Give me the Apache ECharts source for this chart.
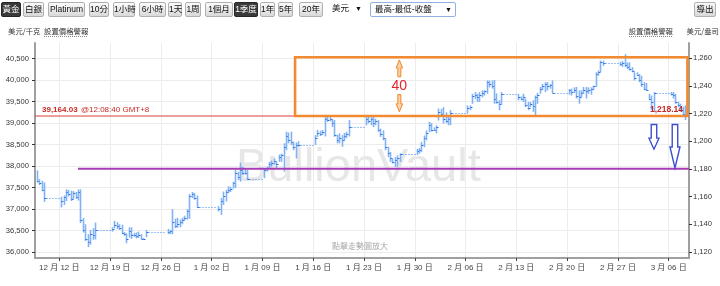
<!DOCTYPE html>
<html>
<head>
<meta charset="utf-8">
<title>BullionVault 黃金 1季度</title>
<script src="https://cdn.jsdelivr.net/npm/echarts@6/dist/echarts.min.js"></script>
<style>
html,body{margin:0;padding:0;background:#fff;}
#wrap{position:relative;width:720px;height:286px;overflow:hidden;font-family:'Liberation Sans','Noto Sans CJK TC',sans-serif;}
#chart{position:absolute;left:0;top:0;width:720px;height:286px;}
.b{position:absolute;top:2px;height:15px;line-height:13px;box-sizing:border-box;border:1px solid #b0b0b0;border-radius:2px;background:linear-gradient(#fbfbfb,#d9d9d9);font-size:8.5px;color:#111;text-align:center;white-space:nowrap;z-index:5;}
.b.sel{background:#3a3a3a;border-color:#262626;color:#fff;}
.s{position:absolute;top:2px;height:15px;line-height:13px;box-sizing:border-box;font-size:8.5px;color:#111;white-space:nowrap;z-index:5;background:#fff;padding-left:4px;}
.s i{position:absolute;right:3px;top:0;font-style:normal;font-size:7px;}
</style>
</head>
<body>
<div id="wrap">
<div id="chart"></div>
<span class="b sel" style="left:1px;width:20px">黃金</span>
<span class="b" style="left:23px;width:21px">白銀</span>
<span class="b" style="left:48px;width:37px">Platinum</span>
<span class="b" style="left:89px;width:20px">10分</span>
<span class="b" style="left:113px;width:22px">1小時</span>
<span class="b" style="left:139px;width:27px">6小時</span>
<span class="b" style="left:168px;width:14px">1天</span>
<span class="b" style="left:185px;width:16px">1周</span>
<span class="b" style="left:205px;width:28px">1個月</span>
<span class="b sel" style="left:234px;width:24px">1季度</span>
<span class="b" style="left:260px;width:15px">1年</span>
<span class="b" style="left:278px;width:15px">5年</span>
<span class="b" style="left:299px;width:24px">20年</span>
<span class="s" style="left:328px;width:37px">美元<i>▼</i></span>
<span class="s" style="left:370px;width:86px;border:1px solid #8fb1e3;border-radius:2px;">最高-最低-收盤<i>▼</i></span>
<span class="b" style="left:694px;width:22px">導出</span>
</div>
<script>
// ---------------- data ----------------
const OZ_PER_KG = 32.1507466;
const leftTicks = [36000, 36500, 37000, 37500, 38000, 38500, 39000, 39500, 40000, 40500];
const rightTicks = [1120, 1140, 1160, 1180, 1200, 1220, 1240, 1260];
const xTickDates = ['2016-12-12', '2016-12-19', '2016-12-26', '2017-01-02', '2017-01-09', '2017-01-16',
  '2017-01-23', '2017-01-30', '2017-02-06', '2017-02-13', '2017-02-20', '2017-02-27', '2017-03-06'];
const xRange = ['2016-12-08 15:37', '2017-03-08 19:12'];
const yRangeKg = [35867, 40860];

// 8-hour bars, grouped in trading sessions (weekends / holidays between sessions)
const sessionStarts = ['2016-12-08 22:00', '2016-12-12 06:00', '2016-12-19 06:00', '2016-12-26 22:00',
  '2017-01-02 22:00', '2017-01-09 06:00', '2017-01-16 06:00', '2017-01-23 06:00', '2017-01-30 06:00',
  '2017-02-06 06:00', '2017-02-13 06:00', '2017-02-20 06:00', '2017-02-27 06:00', '2017-03-06 06:00'];
const sessionCounts = [4, 15, 15, 13, 13, 15, 15, 15, 15, 15, 15, 15, 15, 7];

// USD per kg
const highs = [
  37900, 37700, 37660, 37620,
  37290, 37320, 37460, 37450, 37430, 37420, 37400, 37460, 37460, 36800, 36650, 36420, 36520, 36560, 36690,
  36580, 36730, 36700, 36650, 36640, 36470, 36440, 36580, 36580, 36450, 36460, 36480, 36420, 36330, 36520,
  36540, 36520, 37000, 36780, 36800, 36760, 36800, 36850, 37000, 37350, 37400, 37380, 37320,
  37070, 37260, 37410, 37450, 37530, 37520, 37640, 37910, 37870, 38080, 37990, 37950, 37910,
  37950, 37990, 38100, 38130, 38180, 38100, 38270, 38290, 38530, 38800, 38780, 38800, 38570, 38550, 38580,
  38720, 38840, 38820, 38840, 39180, 39180, 39140, 39100, 39070, 38730, 38760, 38720, 38770, 38800, 39070,
  39180, 39180, 39150, 39140, 39100, 39070, 38870, 38830, 38650, 38450, 38330, 38180, 38210, 38250, 38300,
  38400, 38420, 38560, 38710, 38830, 39030, 39000, 38900, 38950, 39340, 39330, 39370, 39250, 39140, 39300,
  39410, 39410, 39680, 39720, 39680, 39720, 39760, 39760, 39990, 39990, 39990, 40000, 39690, 39530, 39720,
  39680, 39620, 39680, 39570, 39490, 39490, 39530, 39640, 39700, 39840, 39910, 39950, 39950, 39910, 39990,
  39790, 39800, 39830, 39840, 39760, 39760, 39840, 39840, 39830, 39830, 39870, 40180, 40220, 40450, 40450,
  40420, 40440, 40600, 40410, 40410, 40300, 40180, 40180, 40140, 40100, 39950, 39930, 39680, 39640, 39720,
  39720, 39720, 39680, 39490, 39450, 39380, 39410
];
const lows = [
  37620, 37560, 37420, 37170,
  37040, 37100, 37190, 37300, 37190, 37230, 37240, 37200, 36680, 36460, 36260, 36120, 36180, 36290, 36300,
  36480, 36560, 36540, 36520, 36420, 36380, 36210, 36340, 36310, 36360, 36320, 36330, 36300, 36290, 36350,
  36420, 36420, 36420, 36560, 36570, 36580, 36650, 36730, 36760, 36780, 37260, 37220, 37030,
  36950, 36870, 37100, 37180, 37370, 37400, 37480, 37490, 37680, 37640, 37800, 37800, 37680,
  37720, 37870, 37950, 37980, 38030, 37950, 38100, 38100, 37870, 38370, 38530, 38490, 38370, 38180, 38450,
  38490, 38680, 38700, 38720, 38690, 39030, 39040, 38910, 38680, 38530, 38530, 38450, 38580, 38650, 38690,
  38950, 38990, 38950, 38910, 38950, 38800, 38680, 38600, 38370, 38210, 38100, 38060, 37980, 37990, 38100,
  38260, 38290, 38330, 38440, 38600, 38790, 38800, 38820, 38760, 39060, 39150, 38990, 39000, 38950, 38950,
  39220, 39300, 39450, 39560, 39490, 39490, 39600, 39640, 39680, 39830, 39800, 39450, 39450, 39300, 39420,
  39530, 39530, 39490, 39370, 39300, 39370, 39260, 39140, 39450, 39680, 39760, 39720, 39760, 39800, 39700,
  39660, 39640, 39700, 39570, 39450, 39600, 39680, 39570, 39680, 39660, 39760, 39840, 40100, 40180, 40330,
  40330, 40300, 40300, 40260, 40220, 40180, 39990, 40100, 39950, 39840, 39760, 39760, 39530, 39300, 39260,
  39640, 39570, 39450, 39370, 39260, 39140, 39070
];
const closes = [
  37660, 37600, 37450, 37250,
  37200, 37280, 37400, 37350, 37230, 37380, 37280, 37400, 36750, 36520, 36300, 36250, 36420, 36400, 36520,
  36540, 36640, 36600, 36560, 36450, 36420, 36300, 36500, 36400, 36400, 36380, 36400, 36310, 36310, 36460,
  36480, 36500, 36700, 36600, 36650, 36700, 36760, 36800, 36950, 37300, 37350, 37250, 37050,
  37000, 37200, 37300, 37400, 37450, 37480, 37600, 37850, 37750, 37900, 37850, 37830, 37700,
  37900, 37950, 38050, 38080, 38120, 38050, 38220, 38250, 38450, 38700, 38600, 38550, 38450, 38500, 38490,
  38650, 38780, 38750, 38800, 39100, 39080, 39100, 39000, 38720, 38600, 38650, 38600, 38700, 38750, 38910,
  39100, 39050, 39100, 39000, 39050, 38850, 38750, 38650, 38450, 38300, 38200, 38100, 38150, 38200, 38290,
  38350, 38380, 38500, 38650, 38780, 38950, 38850, 38850, 38900, 39250, 39200, 39100, 39050, 39100, 39235,
  39350, 39380, 39620, 39650, 39600, 39650, 39700, 39740, 39950, 39900, 39850, 39550, 39500, 39450, 39680,
  39600, 39560, 39600, 39420, 39350, 39450, 39400, 39600, 39650, 39800, 39850, 39900, 39850, 39880, 39700,
  39760, 39720, 39780, 39620, 39600, 39700, 39780, 39750, 39780, 39800, 39850, 40150, 40180, 40420, 40390,
  40380, 40400, 40350, 40300, 40250, 40200, 40050, 40120, 40000, 39900, 39800, 39780, 39560, 39500, 39696,
  39680, 39650, 39480, 39420, 39300, 39200, 39164.03
];

const currentPriceKg = 39164.03;
const currentPriceOz = 1218.14;
const currentTimeText = '@12:08:40 GMT+8';
// annotations (USD/oz)
const boxStart = '2017-01-13 12:00', boxEnd = '2017-03-08 14:00';
const boxLowOz = 1218.14, boxHighOz = 1260.6, boxLabel = '40';
const boxArrowTime = '2017-01-27 21:00';
const supportOz = 1180, supportStart = '2016-12-14 14:00';
const downArrowTimes = ['2017-03-03 23:20', '2017-03-06 20:50'];
const downArrowTipOz = [1194.2, 1180.6];

// ---------------- helpers ----------------
function parseT(s) {
  const m = s.match(/(\d+)-(\d+)-(\d+)(?:[ T](\d+):(\d+))?/);
  return new Date(+m[1], +m[2] - 1, +m[3], m[4] ? +m[4] : 0, m[5] ? +m[5] : 0).getTime();
}
function fmtNum(v) { return String(v).replace(/\B(?=(\d{3})+(?!\d))/g, ','); }
const H8 = 8 * 3600 * 1000;

const barData = [];
let idx = 0;
sessionStarts.forEach((s, si) => {
  const t0 = parseT(s);
  for (let k = 0; k < sessionCounts[si]; k++) {
    const isLast = k === sessionCounts[si] - 1 && si < sessionStarts.length - 1;
    const next = isLast ? parseT(sessionStarts[si + 1]) : 0;
    barData.push([t0 + k * H8, highs[idx], lows[idx], closes[idx], next]);
    idx++;
  }
});

const FONT = "'Liberation Sans','Noto Sans CJK TC',sans-serif";
const G = { left: 35, top: 43, right: 31, bottom: 28 };
const xTicks = xTickDates.map(parseT);

const chart = echarts.init(document.getElementById('chart'), null, { renderer: 'canvas' });
chart.setOption({
  animation: false,
  backgroundColor: '#fff',
  grid: { left: G.left, top: G.top, right: G.right, bottom: G.bottom, containLabel: false },
  xAxis: {
    type: 'value',
    min: parseT(xRange[0]), max: parseT(xRange[1]),
    axisLine: { show: true, onZero: false, lineStyle: { color: '#a0a0a0', width: 2 } },
    axisTick: { show: true, length: 3, lineStyle: { color: '#444' }, customValues: xTicks },
    axisLabel: {
      customValues: xTicks, fontSize: 8, color: '#444', margin: 6, fontFamily: FONT,
      formatter: v => { const d = new Date(v); return (d.getMonth() + 1) + ' 月 ' + String(d.getDate()).padStart(2, '0') + ' 日'; }
    },
    splitLine: { show: true, lineStyle: { color: '#ececec', width: 1 } }
  },
  yAxis: [{
    type: 'value', position: 'left',
    min: yRangeKg[0], max: yRangeKg[1],
    axisLine: { show: true, onZero: false, lineStyle: { color: '#a0a0a0', width: 2 } },
    axisTick: { show: true, length: 3, lineStyle: { color: '#333' }, customValues: leftTicks },
    axisLabel: { customValues: leftTicks, fontSize: 7.6, color: '#333', margin: 6, fontFamily: FONT, formatter: fmtNum },
    splitLine: { show: true, lineStyle: { color: '#ececec', width: 1 } }
  }, {
    type: 'value', position: 'right',
    min: yRangeKg[0] / OZ_PER_KG, max: yRangeKg[1] / OZ_PER_KG,
    axisLine: { show: true, onZero: false, lineStyle: { color: '#a0a0a0', width: 2 } },
    axisTick: { show: true, length: 3, lineStyle: { color: '#333' }, customValues: rightTicks },
    axisLabel: { customValues: rightTicks, fontSize: 7.6, color: '#333', margin: 4, fontFamily: FONT, formatter: fmtNum },
    splitLine: { show: false }
  }],
  series: [{
    type: 'custom',
    name: '黃金',
    xAxisIndex: 0, yAxisIndex: 0,
    clip: true,
    encode: { x: 0, y: [1, 2, 3] },
    data: barData,
    renderItem: (params, api) => {
      const t = api.value(0), h = api.value(1), l = api.value(2), c = api.value(3), nt = api.value(4);
      const pH = api.coord([t, h]), pL = api.coord([t, l]), pC = api.coord([t, c]);
      const x = Math.round(pH[0]) + 0.5;
      const yc = Math.round(pC[1]) + 0.5;
      const ch = [
        { type: 'line', shape: { x1: x, y1: pH[1], x2: x, y2: pL[1] }, style: { stroke: '#80b2f4', lineWidth: 1.6 } },
        { type: 'line', shape: { x1: x, y1: yc, x2: x + 2, y2: yc }, style: { stroke: '#2b6ddd', lineWidth: 1 } }
      ];
      if (nt > 0) {
        const pN = api.coord([nt, c]);
        ch.push({ type: 'line', shape: { x1: x + 2, y1: yc, x2: pN[0] - 1, y2: yc }, style: { stroke: '#3f86ee', lineWidth: 1, lineDash: [1, 2] } });
      }
      return { type: 'group', children: ch };
    }
  }]
});

// ---------------- annotations ----------------
function px(t, vKg) { return chart.convertToPixel({ xAxisIndex: 0, yAxisIndex: 0 }, [t, vKg]); }
const gRight = 720 - G.right, gLeft = G.left;
function arrowPts(cx, yTail, yTip, shaftW, headW, headH) {
  const dir = yTip > yTail ? 1 : -1;
  const yNeck = yTip - dir * headH;
  return [[cx - shaftW / 2, yTail], [cx + shaftW / 2, yTail], [cx + shaftW / 2, yNeck], [cx + headW / 2, yNeck],
    [cx, yTip], [cx - headW / 2, yNeck], [cx - shaftW / 2, yNeck]];
}
const yPrice = px(parseT(xRange[0]), currentPriceKg)[1];
const ySupport = px(parseT(xRange[0]), supportOz * OZ_PER_KG)[1];
const pBoxA = px(parseT(boxStart), boxHighOz * OZ_PER_KG);
const pBoxB = px(parseT(boxEnd), boxLowOz * OZ_PER_KG);
const xSupport = px(parseT(supportStart), yRangeKg[0])[0];
const xBoxArrow = px(parseT(boxArrowTime), yRangeKg[0])[0];
const boxTop = pBoxA[1], boxBot = pBoxB[1];
const CJK = "'Noto Sans CJK TC', sans-serif";

const els = [
  { type: 'text', z: -5, left: 236, top: 145, style: { text: 'BullionVault', font: "47px 'Liberation Sans', Arial, sans-serif", fill: '#e7e7e7' } },
  { type: 'text', z: 50, style: { text: '點擊走勢圖放大', x: 360, y: 246, align: 'center', verticalAlign: 'middle', font: "8px " + CJK, fill: '#a8a8a8' } },
  { type: 'text', z: 50, style: { text: '美元/千克', x: 8, y: 31.5, verticalAlign: 'middle', font: "7.4px " + CJK, fill: '#333' } },
  { type: 'text', z: 50, style: { text: '設置價格警報', x: 44, y: 31.5, verticalAlign: 'middle', font: "7.4px " + CJK, fill: '#333' } },
  { type: 'line', z: 50, shape: { x1: 44, y1: 36.5, x2: 88, y2: 36.5 }, style: { stroke: '#888', lineWidth: 1, lineDash: [1, 1] } },
  { type: 'text', z: 50, style: { text: '設置價格警報', x: 673, y: 31.5, align: 'right', verticalAlign: 'middle', font: "7.4px " + CJK, fill: '#333' } },
  { type: 'line', z: 50, shape: { x1: 629, y1: 36.5, x2: 673, y2: 36.5 }, style: { stroke: '#888', lineWidth: 1, lineDash: [1, 1] } },
  { type: 'text', z: 50, style: { text: '美元/盎司', x: 719, y: 31.5, align: 'right', verticalAlign: 'middle', font: "7.4px " + CJK, fill: '#333' } },
  { type: 'line', z: 60, shape: { x1: gLeft, y1: yPrice, x2: gRight, y2: yPrice }, style: { stroke: '#d8403a', lineWidth: 1 } },
  { type: 'text', z: 61, style: {
      text: '{b|' + fmtNum(currentPriceKg.toFixed(2)) + '} {n|' + currentTimeText + '}', x: 42, y: yPrice - 6, verticalAlign: 'middle',
      rich: { b: { font: "bold 8px 'Liberation Sans', Arial, sans-serif", fill: '#c62a26' }, n: { font: "8px 'Liberation Sans', Arial, sans-serif", fill: '#c62a26' } } } },
  { type: 'text', z: 61, style: { text: fmtNum(currentPriceOz.toFixed(2)), x: 683, y: yPrice - 6, align: 'right', verticalAlign: 'middle', font: "bold 8.5px 'Liberation Sans', Arial, sans-serif", fill: '#c62a26' } },
  { type: 'line', z: 60, shape: { x1: xSupport, y1: ySupport, x2: gRight, y2: ySupport }, style: { stroke: '#a63cb6', lineWidth: 2 } },
  { type: 'rect', z: 70, shape: { x: pBoxA[0], y: boxTop, width: pBoxB[0] - pBoxA[0], height: boxBot - boxTop }, style: { fill: 'none', stroke: '#f28a32', lineWidth: 2.6 } },
  { type: 'polygon', z: 70, shape: { points: arrowPts(xBoxArrow, boxTop + 19.5, boxTop + 2.7, 3, 6.5, 8) }, style: { fill: '#fbd3a6', stroke: '#f0862c', lineWidth: 1 } },
  { type: 'polygon', z: 70, shape: { points: arrowPts(xBoxArrow, boxBot - 21.5, boxBot - 4.2, 3, 6.5, 8) }, style: { fill: '#fbd3a6', stroke: '#f0862c', lineWidth: 1 } },
  { type: 'text', z: 70, style: { text: boxLabel, x: xBoxArrow, y: (boxTop + boxBot) / 2, align: 'center', verticalAlign: 'middle', font: "14px 'Liberation Sans', Arial, sans-serif", fill: '#e8222b' } }
];
downArrowTimes.forEach((t, i) => {
  const p = px(parseT(t), downArrowTipOz[i] * OZ_PER_KG);
  const headH = i === 0 ? 11 : 21;
  els.push({ type: 'polygon', z: 70, shape: { points: arrowPts(p[0], yPrice + 8.5, p[1], 5.5, 10, headH) }, style: { fill: '#fff', stroke: '#3d4fd1', lineWidth: 1.4 } });
});
chart.setOption({ graphic: { elements: els } });
</script>
</body>
</html>
